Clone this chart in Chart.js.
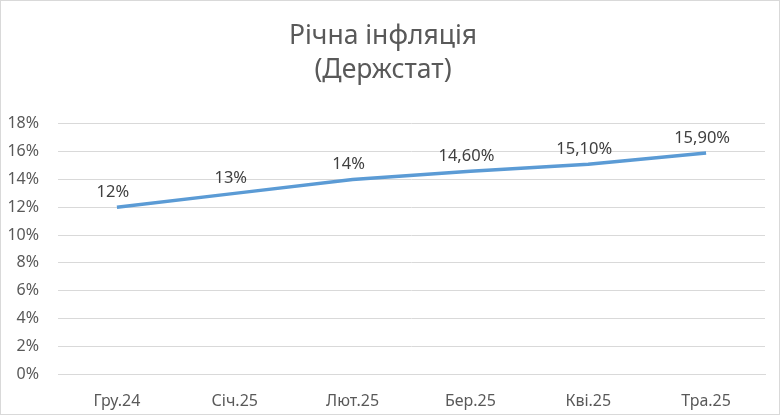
<!DOCTYPE html>
<html>
<head>
<meta charset="utf-8">
<script src="https://cdn.jsdelivr.net/npm/chart.js@4"></script>
<style>
  html, body { margin: 0; padding: 0; background: #fff; }
  #wrap { width: 780px; height: 415px; position: relative; box-sizing: border-box; border: 1px solid #d9d9d9; }
  canvas { display: block; }
</style>
</head>
<body>
<div id="wrap"><canvas id="c" width="778" height="413"></canvas></div>
<script>
const categories = ['Гру.24', 'Січ.25', 'Лют.25', 'Бер.25', 'Кві.25', 'Тра.25'];
const inflation = [12, 13, 14, 14.6, 15.1, 15.9];
const titleLines = ['Річна інфляція', '(Держстат)'];
const yTicks = [0, 2, 4, 6, 8, 10, 12, 14, 16, 18];

const FONT = "'Noto Sans', 'Open Sans', sans-serif";

function fmtLabel(v) {
  return Number.isInteger(v) ? v + '%' : v.toFixed(2).replace('.', ',') + '%';
}

const dataLabels = {
  id: 'dataLabels',
  afterDatasetsDraw(chart) {
    const ctx = chart.ctx;
    const meta = chart.getDatasetMeta(0);
    ctx.save();
    ctx.font = '16.5px ' + FONT;
    ctx.fillStyle = '#404040';
    ctx.textAlign = 'center';
    ctx.textBaseline = 'middle';
    meta.data.forEach((pt, i) => {
      ctx.fillText(fmtLabel(chart.data.datasets[0].data[i]), pt.x - 4, pt.y - 15);
    });
    ctx.restore();
  }
};

new Chart(document.getElementById('c'), {
  type: 'line',
  data: {
    labels: categories,
    datasets: [{
      data: inflation,
      borderColor: '#5B9BD5',
      borderWidth: 3.5,
      pointRadius: 0,
      tension: 0,
      fill: false
    }]
  },
  options: {
    responsive: false,
    animation: false,
    layout: { padding: { left: 0, right: 14, top: 0, bottom: 0 } },
    plugins: {
      legend: { display: false },
      tooltip: { enabled: false },
      title: {
        display: true,
        text: titleLines,
        color: '#595959',
        font: { family: FONT, size: 26.5, weight: 'normal', lineHeight: 1.3 },
        padding: { top: 18, bottom: 36 }
      }
    },
    scales: {
      x: {
        offset: true,
        afterFit(scale) { scale.height = 40; },
        grid: { display: false, drawTicks: false },
        border: { display: true, color: '#d9d9d9' },
        ticks: { color: '#595959', font: { family: FONT, size: 16 }, padding: 18, maxRotation: 0 }
      },
      y: {
        min: 0,
        max: 18,
        afterBuildTicks(scale) { scale.ticks = yTicks.map(v => ({ value: v })); },
        afterFit(scale) { scale.width = 57; },
        grid: { color: '#d9d9d9', lineWidth: 1, drawTicks: false },
        border: { display: false },
        ticks: {
          color: '#595959',
          font: { family: FONT, size: 16 },
          padding: 19,
          callback: v => v + '%'
        }
      }
    }
  },
  plugins: [dataLabels]
});
</script>
</body>
</html>
